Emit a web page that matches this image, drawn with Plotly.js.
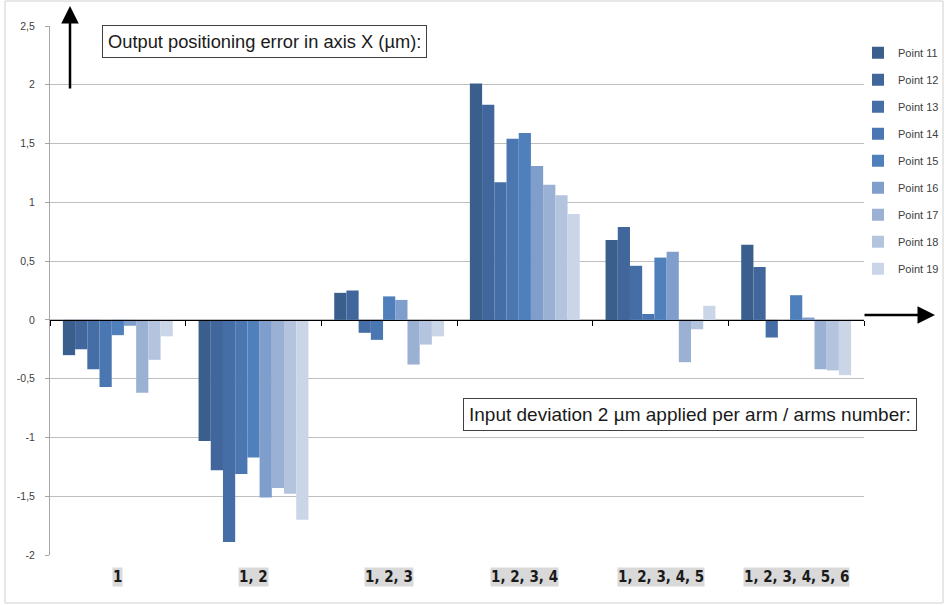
<!DOCTYPE html>
<html>
<head>
<meta charset="utf-8">
<script src="https://cdn.plot.ly/plotly-3.0.1.min.js"></script>
<style>html,body{margin:0;padding:0;background:#fff;}#chart{width:944px;height:605px;}</style>
</head>
<body>
<div id="chart"></div>
<script>
// ---- data ----
const categories = ['1', '1, 2', '1, 2, 3', '1, 2, 3, 4', '1, 2, 3, 4, 5', '1, 2, 3, 4, 5, 6'];
const seriesNames = ['Point 11', 'Point 12', 'Point 13', 'Point 14', 'Point 15', 'Point 16', 'Point 17', 'Point 18', 'Point 19'];
const point11 = [-0.30, -1.03, 0.23, 2.01, 0.68, 0.64];
const point12 = [-0.25, -1.28, 0.25, 1.83, 0.79, 0.45];
const point13 = [-0.42, -1.89, -0.11, 1.17, 0.46, -0.15];
const point14 = [-0.57, -1.31, -0.17, 1.54, 0.05, 0.00];
const point15 = [-0.13, -1.17, 0.20, 1.59, 0.53, 0.21];
const point16 = [-0.05, -1.51, 0.17, 1.31, 0.58, 0.02];
const point17 = [-0.62, -1.43, -0.38, 1.15, -0.36, -0.42];
const point18 = [-0.34, -1.48, -0.21, 1.06, -0.08, -0.43];
const point19 = [-0.14, -1.70, -0.14, 0.90, 0.12, -0.47];
const yTickVals = [-2, -1.5, -1, -0.5, 0, 0.5, 1, 1.5, 2, 2.5];
const yTickText = ['-2', '-1,5', '-1', '-0,5', '0', '0,5', '1', '1,5', '2', '2,5'];
const yTitleText = 'Output positioning error in axis X (µm):';
const xTitleText = 'Input deviation 2 µm applied per arm / arms number:';

// ---- styles ----
const colors = ['#3b5f8d', '#41669b', '#456ea6', '#4a77b1', '#4f80bc', '#7f9ecb', '#9bb1d4', '#b5c4de', '#cad6e7'];
const allSeries = [point11, point12, point13, point14, point15, point16, point17, point18, point19];

const traces = allSeries.map((vals, i) => ({
  type: 'bar',
  name: seriesNames[i],
  x: categories,
  y: vals,
  marker: { color: colors[i], line: { width: 0 } },
  legendgroup: 'g' + i,
  hoverinfo: 'name+y'
}));

const catAnnotations = categories.map((c, i) => ({
  x: i, xref: 'x', y: -2, yref: 'y', yanchor: 'top', yshift: -12,
  text: '<b>' + c + '</b>', showarrow: false,
  font: { family: '"Liberation Sans Narrow", "DejaVu Sans Condensed", "Liberation Sans", sans-serif', size: 15, color: '#1a1a1a' },
  bgcolor: '#d9d9d9', borderpad: 0
}));

const layout = {
  width: 944, height: 605,
  margin: { l: 50, r: 80, t: 26, b: 50, autoexpand: false },
  paper_bgcolor: '#ffffff', plot_bgcolor: '#ffffff',
  font: { family: '"Liberation Sans", Arial, sans-serif', color: '#404040' },
  barmode: 'group', bargap: 0.19, bargroupgap: 0,
  showlegend: true,
  legend: {
    x: (858 - 50) / 814, xanchor: 'left', y: 0.977, yanchor: 'top',
    font: { size: 11, color: '#404040' },
    tracegroupgap: 8, bgcolor: 'rgba(0,0,0,0)', itemclick: false
  },
  xaxis: {
    type: 'category', anchor: 'free', position: 2 / 4.5,
    showline: true, linecolor: '#000000', linewidth: 1.5,
    ticks: 'outside', tickson: 'boundaries', ticklen: 5, tickcolor: '#000000', tickwidth: 1,
    showticklabels: false, showgrid: false, zeroline: false, fixedrange: true
  },
  yaxis: {
    range: [-2, 2.5], tickvals: yTickVals, ticktext: yTickText,
    showgrid: true, gridcolor: '#bfbfbf', gridwidth: 1,
    showline: true, linecolor: '#a6a6a6', linewidth: 1,
    ticks: 'outside', ticklen: 4, tickcolor: '#a6a6a6',
    ticklabelstandoff: 8,
    tickfont: { size: 10.5, color: '#404040' },
    zeroline: false, fixedrange: true
  },
  annotations: catAnnotations.concat([
    {
      xref: 'paper', yref: 'paper', x: 0.264, y: 0.9707, xanchor: 'center', yanchor: 'middle',
      text: yTitleText, showarrow: false,
      font: { size: 18.3, color: '#1a1a1a' },
      bgcolor: '#ffffff', bordercolor: '#404040', borderwidth: 1, borderpad: 5
    },
    {
      xref: 'paper', yref: 'paper', x: 0.786, y: 0.2665, xanchor: 'center', yanchor: 'middle',
      text: xTitleText, showarrow: false,
      font: { size: 19, color: '#1a1a1a' },
      bgcolor: '#ffffff', bordercolor: '#404040', borderwidth: 1, borderpad: 5
    },
    {
      xref: 'paper', yref: 'paper', x: 20 / 814, y: (555 - 6) / 529, text: '',
      showarrow: true, arrowhead: 2, arrowsize: 1.4, arrowwidth: 2.5, arrowcolor: '#000000',
      ax: 0, ay: 84
    },
    {
      xref: 'paper', yref: 'paper', x: (935 - 50) / 814, y: (555 - 315) / 529, text: '',
      showarrow: true, arrowhead: 2, arrowsize: 1.4, arrowwidth: 2.5, arrowcolor: '#000000',
      ax: -72, ay: 0
    }
  ]),
  shapes: [
    {
      type: 'rect', xref: 'paper', yref: 'paper', layer: 'below',
      x0: (5 - 50) / 814, x1: (943 - 50) / 814, y0: (555 - 603) / 529, y1: (555 - 1) / 529,
      line: { color: '#d0d0d0', width: 1 }, fillcolor: 'rgba(0,0,0,0)'
    }
  ]
};

Plotly.newPlot('chart', traces, layout, { displayModeBar: false, staticPlot: true });
</script>
</body>
</html>
